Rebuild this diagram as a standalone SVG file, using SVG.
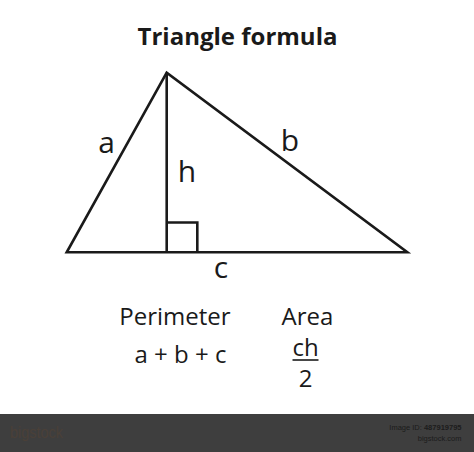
<svg xmlns="http://www.w3.org/2000/svg" width="474" height="452" viewBox="0 0 474 452">
  <style>
    .edge { fill: none; stroke: #1a1a1a; stroke-width: 2.6; stroke-linejoin: miter; }
    .lbl { font-family: "Open Sans", "Noto Sans", sans-serif; fill: #1a1a1a; }
    .side { font-size: 30px; }
    .formula { font-size: 24px; }
    .title { font-size: 24px; font-weight: bold; }
    .foot { font-family: "Liberation Sans", Arial, sans-serif; font-size: 7.5px; fill: #1c1c1c; }
  </style>
  <rect x="0" y="0" width="474" height="452" fill="#ffffff"/>
  <g id="title">
    <text class="lbl title" x="237.5" y="44.5" text-anchor="middle">Triangle formula</text>
  </g>
  <g id="connectors">
    <polygon class="edge" points="166.7,72.7 66.7,252.3 407.3,252.3"/>
    <line class="edge" x1="166.7" y1="72.7" x2="166.7" y2="252.3"/>
    <polyline class="edge" points="166.7,222.5 197.3,222.5 197.3,252.3"/>
  </g>
  <g id="side-a"><text class="lbl side" x="106.5" y="153" text-anchor="middle">a</text></g>
  <g id="side-b"><text class="lbl side" x="290" y="151" text-anchor="middle">b</text></g>
  <g id="height-h"><text class="lbl side" x="187" y="182" text-anchor="middle">h</text></g>
  <g id="side-c"><text class="lbl side" x="221" y="278" text-anchor="middle">c</text></g>
  <g id="perimeter">
    <text class="lbl formula" x="175" y="325" text-anchor="middle">Perimeter</text>
    <text class="lbl formula" x="180.5" y="363" text-anchor="middle">a + b + c</text>
  </g>
  <g id="area">
    <text class="lbl formula" x="307.5" y="325" text-anchor="middle">Area</text>
    <text class="lbl formula" x="305.5" y="356" text-anchor="middle">ch</text>
    <line x1="292.5" y1="360" x2="318.5" y2="360" stroke="#1a1a1a" stroke-width="1.6"/>
    <text class="lbl formula" x="305.5" y="387" text-anchor="middle">2</text>
  </g>
  <g id="footer">
    <rect x="0" y="414" width="474" height="38" fill="#3e3e3e"/>
    <text x="10" y="438" font-family="Liberation Sans Narrow, Liberation Sans, sans-serif" font-size="17" fill="#4a4038" textLength="53" lengthAdjust="spacingAndGlyphs">bigstock</text>
    <text class="foot" x="461.5" y="430" text-anchor="end">Image ID: <tspan font-weight="bold">487919795</tspan></text>
    <text class="foot" x="461.5" y="440.5" text-anchor="end">bigstock.com</text>
  </g>
</svg>
